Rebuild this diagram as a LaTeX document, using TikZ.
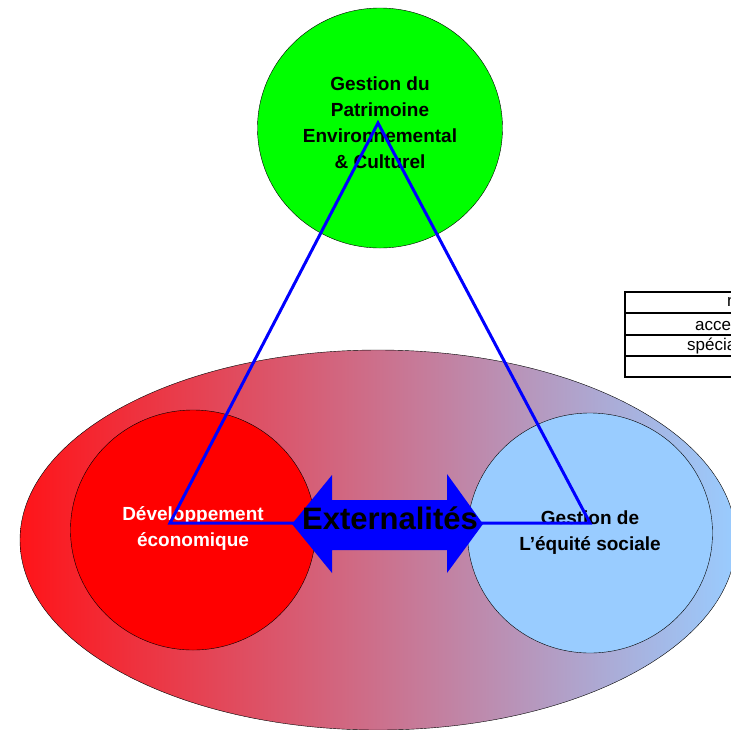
\documentclass[tikz,border=0pt]{standalone}
\usepackage{fontspec}
\setmainfont{Liberation Sans}
\usetikzlibrary{shapes.geometric}
\definecolor{vert}{RGB}{0,255,0}
\definecolor{rouge}{RGB}{255,0,0}
\definecolor{bleuclair}{RGB}{153,204,255}
\definecolor{bleu}{RGB}{0,0,255}
\definecolor{rose}{RGB}{212,145,178}
\definecolor{rougefond}{RGB}{255,20,25}
\begin{document}
\begin{tikzpicture}[x=1pt, y=-1pt,
    circ/.style={ellipse, draw, thin, minimum width=245pt, minimum height=240pt, align=center, font=\fontsize{19}{26}\selectfont\bfseries},
    tri/.style={draw=bleu, line width=3pt},
    fleche/.style={fill=bleu, draw=none},
    tabline/.style={draw, line width=2pt},
    cell/.style={anchor=base west, inner sep=0pt, font=\fontsize{17}{20}\selectfont}
]
\useasboundingbox (0,0) rectangle (731,729);
\clip (0,0) rectangle (731,729);
% fond
\node[ellipse, draw, thin, minimum width=716pt, minimum height=380pt, left color=rougefond, middle color=rose, right color=bleuclair] (fond) at (378,540) {};
% les trois piliers
\node[circ, fill=vert] (patrimoine) at (380,128) {Gestion du\\Patrimoine\\Environnemental\\\& Culturel\\[-16pt]};
\node[circ, fill=rouge, text=white] (eco) at (193,530) {Développement\\économique\\[-20pt]};
\node[circ, fill=bleuclair] (social) at (590,533) {Gestion de\\L'équité sociale};
% triangle
\coordinate (sommet) at (378,123);
\coordinate (gauche) at (170,523);
\coordinate (droite) at (590,523);
\draw[tri] (sommet) -- (gauche) -- (droite) -- cycle;
% double fleche
\fill[fleche] (292,524) -- (332,475) -- (332,500) -- (447,500) -- (447,474) -- (483,524)
    -- (447,573) -- (447,550) -- (332,550) -- (332,573) -- cycle;
\node[anchor=base, inner sep=0pt, font=\fontsize{31}{31}\selectfont\bfseries] (ext) at (390,529) {Externalités};
% tableau
\draw[tabline] (625,292) rectangle (745,377);
\draw[tabline] (625,313) -- (745,313);
\draw[tabline] (625,335) -- (745,335);
\draw[tabline] (625,356) -- (745,356);
\node[cell] (ligne1) at (727,306) {n};
\node[cell] (ligne2) at (695,330) {acce};
\node[cell] (ligne3) at (687,350) {spécia};
\end{tikzpicture}
\end{document}
